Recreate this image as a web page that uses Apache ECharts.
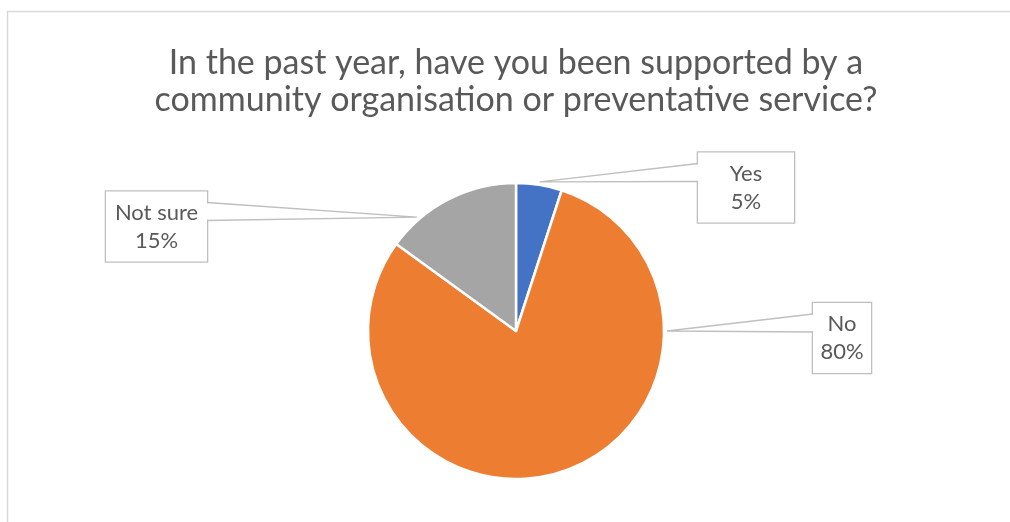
<!DOCTYPE html>
<html>
<head>
<meta charset="utf-8">
<script src="https://cdn.jsdelivr.net/npm/echarts@6/dist/echarts.min.js"></script>
<style>
  html, body { margin: 0; padding: 0; background: #ffffff; }
  #chart { width: 1010px; height: 522px; }
</style>
</head>
<body>
<div id="chart"></div>
<script>
// Survey answers and their shares (percent)
const categories = ['Yes', 'No', 'Not sure'];
const shares = [5, 80, 15];
const sliceColors = ['#4472C4', '#ED7D31', '#A5A5A5'];
const titleLines = [
  'In the past year, have you been supported by a',
  'community organisation or preventative service?'
];

// Callout boxes: centre, width, which side the pointer leaves from,
// and where along the slice's arc the pointer ends (0 = start, 1 = end)
const calloutBoxes = [
  { x: 746, y: 187.5, w: 96, side: 'left', tipAt: 0.5 },
  { x: 842, y: 338, w: 58, side: 'left', tipAt: 0.25 },
  { x: 156.5, y: 226.5, w: 101, side: 'right', tipAt: 0.24 }
];

const FONT = 'Lato, "Open Sans", sans-serif';
const TEXT_COLOR = '#595959';
const LINE_COLOR = '#BFBFBF';
const LABEL_LINE_HEIGHT = 28;
const LABEL_PAD_V = 7;
const BOX_H = 2 * LABEL_LINE_HEIGHT + 2 * LABEL_PAD_V;

const chart = echarts.init(document.getElementById('chart'), null, { renderer: 'canvas' });

const option = {
  animation: false,
  backgroundColor: '#ffffff',
  title: {
    text: titleLines.join('\n'),
    left: 516,
    top: 45,
    padding: 0,
    textAlign: 'center',
    textStyle: {
      fontFamily: FONT,
      fontSize: 34,
      lineHeight: 37,
      fontWeight: 'normal',
      color: TEXT_COLOR
    }
  },
  series: [{
    type: 'pie',
    center: [516, 331],
    radius: 148,
    startAngle: 90,
    clockwise: true,
    avoidLabelOverlap: false,
    itemStyle: { borderColor: '#ffffff', borderWidth: 2.5 },
    label: {
      show: true,
      formatter: '{b}\n{d}%',
      fontFamily: FONT,
      fontSize: 22,
      lineHeight: LABEL_LINE_HEIGHT,
      color: TEXT_COLOR,
      backgroundColor: '#ffffff',
      borderColor: LINE_COLOR,
      borderWidth: 1.3,
      padding: [LABEL_PAD_V, 0]
    },
    labelLine: { show: false },
    labelLayout: function (params) {
      const box = calloutBoxes[params.dataIndex];
      return { x: box.x, y: box.y, align: 'center', verticalAlign: 'middle', hideOverlap: false };
    },
    data: categories.map(function (name, i) {
      return {
        name: name,
        value: shares[i],
        itemStyle: { color: sliceColors[i] },
        label: { width: calloutBoxes[i].w }
      };
    })
  }]
};

chart.setOption(option);

// Pointers from each callout box to its slice, placed from the pie's own layout
const pieData = chart.getModel().getSeriesByIndex(0).getData();
const graphics = [{
  id: 'frame',
  type: 'rect',
  silent: true,
  z: 0,
  shape: { x: 7.5, y: 11.5, width: 1100, height: 600 },
  style: { fill: null, stroke: '#D9D9D9', lineWidth: 1.5 }
}];

calloutBoxes.forEach(function (box, i) {
  const lay = pieData.getItemLayout(i);
  if (!lay) return;
  const ang = lay.startAngle + (lay.endAngle - lay.startAngle) * box.tipAt;
  const rr = lay.r + 3;
  const tip = [lay.cx + rr * Math.cos(ang), lay.cy + rr * Math.sin(ang)];
  const top = box.y - BOX_H / 2;
  const bx = box.side === 'left' ? box.x - box.w / 2 : box.x + box.w / 2;
  const inward = box.side === 'left' ? 1 : -1;
  const y1 = top + 11, y2 = top + 29;
  graphics.push({
    id: 'wedgeFill' + i,
    type: 'polygon',
    silent: true,
    z: 100,
    shape: { points: [[bx + inward * 1.5, y1 + 0.7], tip, [bx + inward * 1.5, y2 - 0.7]] },
    style: { fill: '#ffffff', stroke: null }
  });
  graphics.push({
    id: 'wedgeLine' + i,
    type: 'polyline',
    silent: true,
    z: 101,
    shape: { points: [[bx, y1], tip, [bx, y2]] },
    style: { fill: null, stroke: LINE_COLOR, lineWidth: 1.3 }
  });
});

chart.setOption({ graphic: { elements: graphics } });
</script>
</body>
</html>
